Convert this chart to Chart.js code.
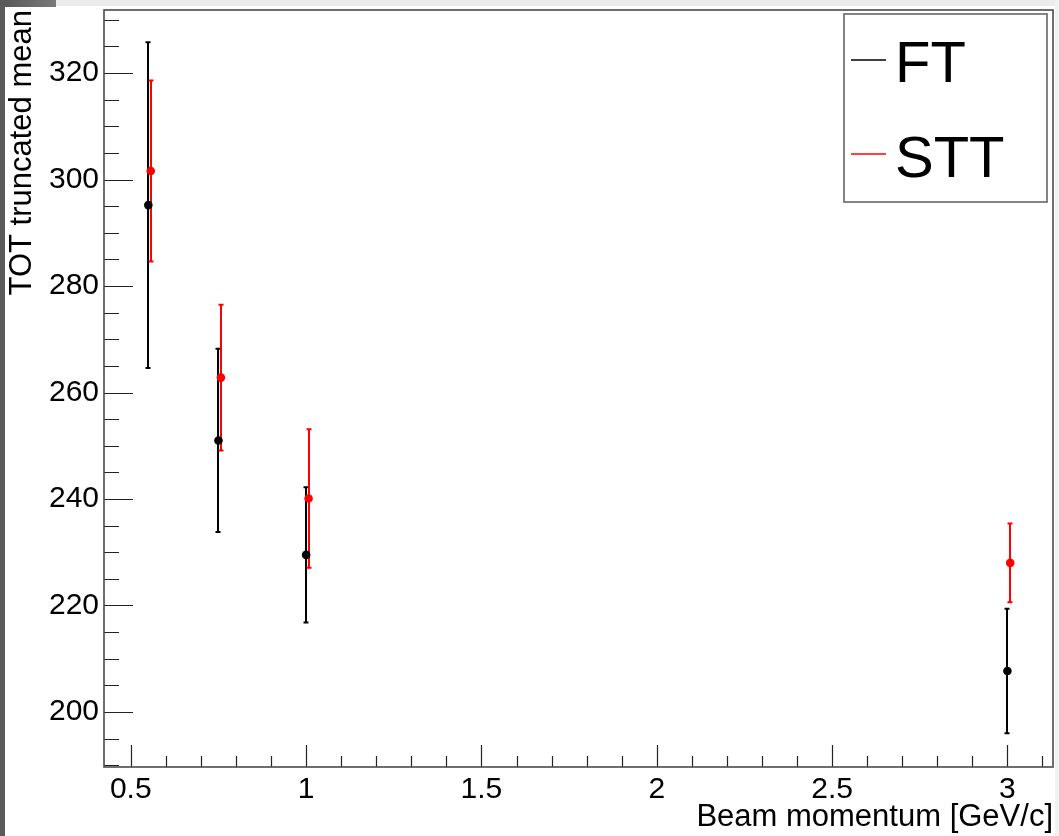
<!DOCTYPE html>
<html>
<head>
<meta charset="utf-8">
<script src="https://cdn.jsdelivr.net/npm/chart.js@4.4.1/dist/chart.umd.min.js"></script>
<style>
  html, body { margin: 0; padding: 0; background: #fff; }
  #wrap { width: 1059px; height: 836px; position: relative; }
  canvas { display: block; }
</style>
</head>
<body>
<div id="wrap"><canvas id="c" width="1059" height="836"></canvas></div>
<script>
// ---- data ----
const seriesNames = ['FT', 'STT'];
const seriesColors = ['#000000', '#ff0000'];
const ftMomentum  = [0.55, 0.75, 1.0, 3.0];
const ftMean      = [295.2, 251.0, 229.5, 207.7];
const ftError     = [30.6, 17.2, 12.7, 11.7];
const sttMomentum = [0.557, 0.757, 1.007, 3.008];
const sttMean     = [301.6, 262.8, 240.1, 228.0];
const sttError    = [17.0, 13.7, 13.0, 7.4];
const xTickValues = [0.5, 1, 1.5, 2, 2.5, 3];
const yTickValues = [200, 220, 240, 260, 280, 300, 320];
const xMinorStep = 0.1;
const yMinorStep = 5;
const xRange = [0.4236, 3.130];
const yRange = [189.66, 331.85];

function toPoints(xs, ys) { return xs.map((x, i) => ({ x: x, y: ys[i] })); }

const FONT = '"Liberation Sans", Arial, Helvetica, sans-serif';

const decorPlugin = {
  id: 'decor',
  beforeDraw(chart) {
    const ctx = chart.ctx;
    const W = chart.width, H = chart.height;
    ctx.save();
    ctx.fillStyle = '#ffffff';
    ctx.fillRect(0, 0, W, H);
    ctx.fillStyle = '#ececec';
    ctx.fillRect(0, 0, W, 6);
    ctx.fillStyle = '#f2f2f2';
    ctx.fillRect(W - 4, 0, 4, H);
    const g = ctx.createLinearGradient(0, 0, 56, 0);
    g.addColorStop(0, '#555555');
    g.addColorStop(1, '#7a7a7a');
    ctx.fillStyle = g;
    ctx.fillRect(0, 0, 56, 7);
    ctx.fillStyle = '#5a5a5a';
    ctx.fillRect(0, 0, 5, H);
    ctx.restore();
  },
  beforeDatasetsDraw(chart) {
    const ctx = chart.ctx;
    const xs = chart.scales.x, ys = chart.scales.y;
    ctx.save();
    chart.data.datasets.forEach(ds => {
      ctx.strokeStyle = ds.borderColor;
      ctx.lineWidth = 2;
      ds.data.forEach((p, i) => {
        const e = ds.errors[i];
        const px = Math.round(xs.getPixelForValue(p.x));
        const yTop = ys.getPixelForValue(p.y + e);
        const yBot = ys.getPixelForValue(p.y - e);
        ctx.beginPath();
        ctx.moveTo(px, yTop);
        ctx.lineTo(px, yBot);
        ctx.moveTo(px - 2.5, yTop);
        ctx.lineTo(px + 2.5, yTop);
        ctx.moveTo(px - 2.5, yBot);
        ctx.lineTo(px + 2.5, yBot);
        ctx.stroke();
      });
    });
    ctx.restore();
  },
  afterDraw(chart) {
    const ctx = chart.ctx;
    const a = chart.chartArea;
    const xs = chart.scales.x, ys = chart.scales.y;
    ctx.save();
    // ticks (inward, left and bottom only)
    ctx.strokeStyle = '#222222';
    ctx.lineWidth = 1.2;
    ctx.beginPath();
    const yStart = Math.ceil(yRange[0] / yMinorStep) * yMinorStep;
    for (let v = yStart; v <= yRange[1] + 1e-9; v += yMinorStep) {
      const py = Math.round(ys.getPixelForValue(v)) + 0.5;
      const major = yTickValues.some(t => Math.abs(t - v) < 1e-6);
      ctx.moveTo(a.left, py);
      ctx.lineTo(a.left + (major ? 29 : 15), py);
    }
    const xStart = Math.ceil(xRange[0] / xMinorStep - 1e-9) * xMinorStep;
    for (let v = xStart; v <= xRange[1] + 1e-9; v += xMinorStep) {
      const px = Math.round(xs.getPixelForValue(v)) + 0.5;
      const major = xTickValues.some(t => Math.abs(t - v) < 1e-6);
      ctx.moveTo(px, a.bottom);
      ctx.lineTo(px, a.bottom - (major ? 22 : 11));
    }
    ctx.stroke();
    // frame
    ctx.strokeStyle = '#4a4a4a';
    ctx.lineWidth = 1.6;
    ctx.strokeRect(a.left, a.top, a.right - a.left, a.bottom - a.top);
    // legend
    const lx0 = 844, ly0 = 14, lx1 = 1047, ly1 = 202;
    ctx.fillStyle = '#ffffff';
    ctx.fillRect(lx0, ly0, lx1 - lx0, ly1 - ly0);
    ctx.strokeStyle = '#777777';
    ctx.lineWidth = 1.8;
    ctx.strokeRect(lx0, ly0, lx1 - lx0, ly1 - ly0);
    const rowLine = [60, 154];
    const rowBase = [82, 177];
    ctx.font = '58px ' + FONT;
    ctx.textBaseline = 'alphabetic';
    ctx.textAlign = 'left';
    chart.data.datasets.forEach((ds, i) => {
      ctx.strokeStyle = ds.borderColor;
      ctx.lineWidth = 1.5;
      ctx.beginPath();
      ctx.moveTo(851, rowLine[i]);
      ctx.lineTo(886, rowLine[i]);
      ctx.stroke();
      ctx.fillStyle = '#000000';
      ctx.fillText(ds.label, 895, rowBase[i]);
    });
    ctx.restore();
  }
};

const datasets = [
  { label: seriesNames[0], data: toPoints(ftMomentum, ftMean), errors: ftError,
    borderColor: seriesColors[0], backgroundColor: seriesColors[0] },
  { label: seriesNames[1], data: toPoints(sttMomentum, sttMean), errors: sttError,
    borderColor: seriesColors[1], backgroundColor: seriesColors[1] }
].map(d => Object.assign(d, {
  showLine: false, pointRadius: 4.3, pointHoverRadius: 4.3, pointBorderWidth: 0,
  pointBackgroundColor: d.borderColor
}));

new Chart(document.getElementById('c'), {
  type: 'scatter',
  data: { datasets: datasets },
  options: {
    responsive: false,
    animation: false,
    devicePixelRatio: 1,
    layout: { padding: { top: 10, right: 6, left: 0, bottom: 0 } },
    plugins: { legend: { display: false }, tooltip: { enabled: false } },
    scales: {
      x: {
        type: 'linear', position: 'bottom',
        min: xRange[0], max: xRange[1],
        grid: { display: false, drawTicks: false },
        border: { display: false },
        afterBuildTicks: s => { s.ticks = xTickValues.map(v => ({ value: v })); },
        afterFit: s => { s.height = 69; s.paddingLeft = 0; s.paddingRight = 0; },
        ticks: { color: '#000', font: { family: FONT, size: 30 }, padding: 5,
                 maxRotation: 0, autoSkip: false, callback: v => String(v) },
        title: { display: true, text: 'Beam momentum [GeV/c]', align: 'end', color: '#000',
                 font: { family: FONT, size: 31, lineHeight: 1.2 }, padding: { top: 0, bottom: 0 } }
      },
      y: {
        type: 'linear', position: 'left',
        min: yRange[0], max: yRange[1],
        grid: { display: false, drawTicks: false },
        border: { display: false },
        afterBuildTicks: s => { s.ticks = yTickValues.map(v => ({ value: v })); },
        afterFit: s => { s.width = 104; s.paddingTop = 0; s.paddingBottom = 0; },
        ticks: { color: '#000', font: { family: FONT, size: 30 }, padding: 5, autoSkip: false,
                 callback: v => String(v) },
        title: { display: true, text: 'TOT truncated mean', align: 'end', color: '#000',
                 font: { family: FONT, size: 31, lineHeight: 1.2 }, padding: { top: 4, bottom: 0 } }
      }
    }
  },
  plugins: [decorPlugin]
});
</script>
</body>
</html>
